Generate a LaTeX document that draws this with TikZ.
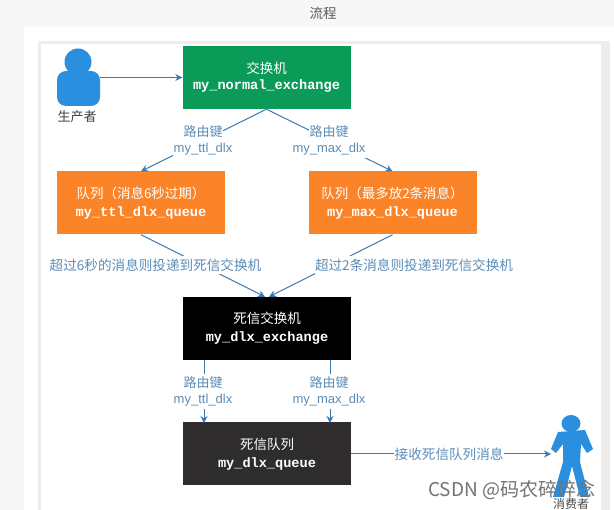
\documentclass[tikz,border=0pt]{standalone}
\usepackage{fontspec}
\setmainfont{Liberation Sans}
\setmonofont{Liberation Mono}
\newfontfamily\cjk{Noto Sans CJK SC}
\usetikzlibrary{arrows.meta,calc}
\definecolor{linkblue}{HTML}{3D7AAE}
\definecolor{labelblue}{HTML}{5B8DB8}
\definecolor{personblue}{HTML}{2B8FE0}
\definecolor{greenbox}{HTML}{0A9B58}
\definecolor{orangebox}{HTML}{FB8328}
\definecolor{darkbox}{HTML}{2E2C2D}
\tikzset{
  x=1pt,y=-1pt,
  boxnode/.style={minimum width=168pt,minimum height=63pt,inner sep=0pt,align=center,text=white,font=\fontsize{13.5}{18}\selectfont},
  link/.style={draw=linkblue,line width=1pt,-{Stealth[length=7pt,width=7pt]}},
  linklabel/.style={fill=white,inner sep=0.5pt,minimum height=17.5pt,text=labelblue,align=center,font=\fontsize{13}{15}\selectfont},
  keylabel/.style={linklabel,font=\cjk\fontsize{13}{15}\selectfont},
  longlabel/.style={linklabel,inner sep=0pt,minimum height=18pt,font=\cjk\fontsize{13.6}{16}\selectfont},
  person/.style={fill=personblue,draw=none},
}
\newcommand{\mon}[1]{{\ttfamily\bfseries\fontsize{13.6}{18}\selectfont #1}}
\begin{document}
\begin{tikzpicture}
\useasboundingbox (0,0) rectangle (614,510);
\fill[black!3] (0,0) rectangle (614,510);
\fill[white] (24,27) rectangle (614,510);
\fill[black!7] (38,41) rectangle (610,510);
\fill[white] (41,44) rectangle (601,510);
\node[text=black!65,font=\cjk\fontsize{13.5}{15}\selectfont] (title) at (323,13) {流程};
% boxes
\node[boxnode,fill=greenbox] (ex) at (266.5,77.5) {{\cjk 交换机}\\[-2pt]\mon{my\_normal\_exchange}};
\node[boxnode,fill=orangebox] (q1) at (141,203) {{\cjk 队列（消息6秒过期）}\\\mon{my\_ttl\_dlx\_queue}};
\node[boxnode,fill=orangebox] (q2) at (392.5,203) {{\cjk 队列（最多放2条消息）}\\\mon{my\_max\_dlx\_queue}};
\node[boxnode,fill=black] (dx) at (267,328.5) {{\cjk 死信交换机}\\\mon{my\_dlx\_exchange}};
\node[boxnode,fill=darkbox] (dq) at (267,454) {{\cjk 死信队列}\\\mon{my\_dlx\_queue}};
% producer
\fill[person] (78,62) circle (13.5);
\fill[person,rounded corners=9pt] (57,71) rectangle (100,106);
\coordinate (prod) at (100,77.5);
\node[text=black!75,font=\cjk\fontsize{13}{15}\selectfont] (prodlabel) at (77,117) {生产者};
% consumer
\node[text=black!70,font=\cjk\fontsize{12}{14}\selectfont] (conslabel) at (571,503.5) {消费者};
\fill[person] (571,423.5) ellipse (9.5 and 8.5);
\fill[person] (558,432) -- (585,430) -- (593,449) -- (587,453) -- (581,444) -- (580,462) -- (589,497) -- (580,497) -- (572,466) -- (564,497) -- (553,497) -- (563,462) -- (563,444) -- (556,453) -- (551,449) -- cycle;
\coordinate (cons) at (551,454);
% connectors
\draw[link] (prod) -- (ex.west |- prod);
\draw[link] (ex.south) -- (q1.north);
\draw[link] (ex.south) -- (q2.north);
\node[keylabel] (l1a) at (203,132) {路由键};
\node[linklabel] (l1b) at (203,149) {my\_ttl\_dlx};
\node[keylabel] (l2a) at (329,132) {路由键};
\node[linklabel] (l2b) at (329,149) {my\_max\_dlx};
\draw[link] (q1.south) -- ($(dx.north)+(-2,0)$);
\draw[link] (q2.south) -- ($(dx.north)+(2,0)$);
\node[longlabel] (l3) at (155.5,265) {超过6秒的消息则投递到死信交换机};
\node[longlabel] (l4) at (414,265) {超过2条消息则投递到死信交换机};
\coordinate (a1) at (204,360);
\coordinate (a2) at (330,360);
\coordinate (b1) at (204,423);
\coordinate (b2) at (330,423);
\draw[link] (a1) -- (b1);
\draw[link] (a2) -- (b2);
\node[keylabel] (l5a) at (203,383) {路由键};
\node[linklabel] (l5b) at (203,400) {my\_ttl\_dlx};
\node[keylabel] (l6a) at (329,383) {路由键};
\node[linklabel] (l6b) at (329,400) {my\_max\_dlx};
\draw[link] (dq.east |- cons) -- node[linklabel,pos=.49,font=\cjk\fontsize{13.6}{16}\selectfont] (l7) {接收死信队列消息} (cons);
% watermark
\node[text=black!55,anchor=west,inner sep=0pt,font=\cjk\fontsize{19}{22}\selectfont] (mark) at (428,490) {CSDN @码农碎碎念};
\end{tikzpicture}
\end{document}
